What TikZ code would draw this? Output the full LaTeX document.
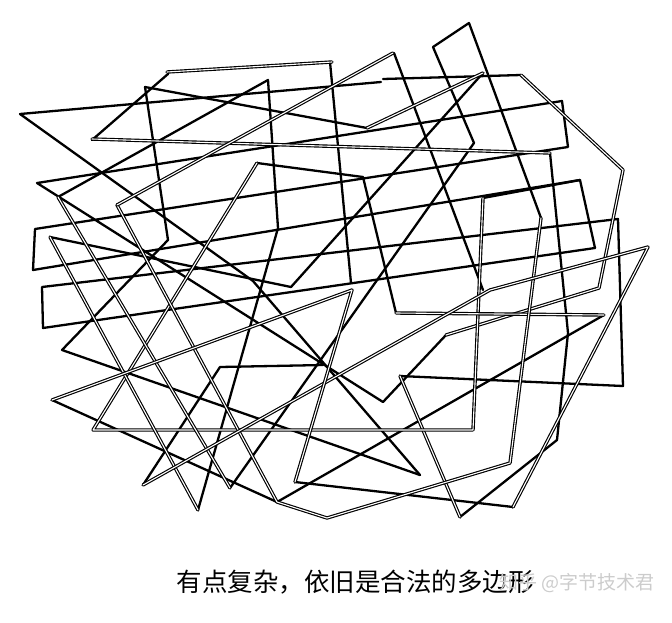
\documentclass[tikz,border=0pt]{standalone}
\usepackage{fontspec}
\newfontfamily\cjk{Noto Sans CJK SC}
\begin{document}
\begin{tikzpicture}[x=1pt,y=-1pt,
  ln/.style={line width=2.3pt, line join=round, line cap=round},
  dl/.style={double, double distance=1.1pt, line width=1.15pt, line join=round, line cap=round}]
\useasboundingbox (0,0) rectangle (672,622);
% thick strokes
\draw[ln] (168,74)--(92,140);
\draw[ln] (550,153)--(568,333)--(557,440)--(460,517);
\draw[ln] (400,376)--(623,386)--(618,219)--(42,287)--(43,328)--(595,248);
\draw[ln] (20,114)--(253,281)--(420,475);
\draw[ln] (20,114)--(381,82);
\draw[ln] (383,79)--(521,75);
\draw[ln] (446,335)--(383,402)--(37,183)--(562,101)--(568,147)--(35,229)--(33,270)--(580,180)--(595,248);
\draw[ln] (580,180)--(483,198);
\draw[ln] (257,163)--(363,177)--(396,313);
\draw[ln] (604,315)--(277,502);
\draw[ln] (52,400)--(277,502);
\draw[ln] (541,218)--(469,23)--(433,47)--(474,143)--(230,488);
\draw[ln] (58,197)--(268,80)--(278,228)--(198,510);
\draw[ln] (50,237)--(291,287)--(483,73);
\draw[ln] (420,475)--(62,350)--(168,240)--(145,87)--(367,128);
\draw[ln] (394,53)--(483,290);
\draw[ln] (143,485)--(220,367)--(323,365);
\draw[ln] (330,62)--(351,283);
\draw[ln] (295,482)--(513,507);
% double strokes
\draw[dl] (367,128)--(483,73);
\draw[dl] (167,72)--(332,62);
\draw[dl] (92,139)--(550,153);
\draw[dl] (460,517)--(400,376);
\draw[dl] (521,75)--(623,170)--(599,288)--(446,335);
\draw[dl] (483,198)--(473,430)--(93,430)--(257,163);
\draw[dl] (396,313)--(604,315);
\draw[dl] (117,205)--(277,502)--(327,518)--(510,463)--(541,218);
\draw[dl] (230,488)--(58,197);
\draw[dl] (198,510)--(50,237);
\draw[dl] (117,205)--(393,53);
\draw[dl] (143,485)--(490,290)--(648,247)--(513,507);
\draw[dl] (52,400)--(352,290)--(295,482);
% captions
\node[font=\cjk\fontsize{25.5}{25.5}\selectfont, inner sep=0pt] (cap) at (355,582) {有点复杂，依旧是合法的多边形};
\node[font=\cjk\fontsize{19}{19}\selectfont, text=black!20, inner sep=0pt] (wm) at (577,583) {知乎 @字节技术君};
\end{tikzpicture}
\end{document}
